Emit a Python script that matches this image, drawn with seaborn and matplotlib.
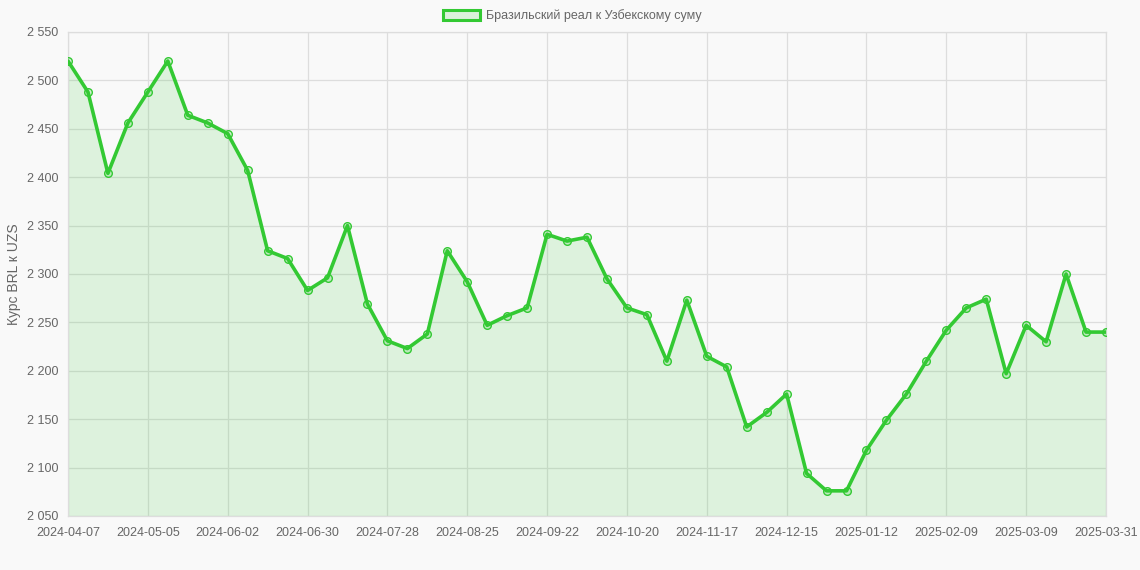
import numpy as np
import pandas as pd
import seaborn as sns
import matplotlib.pyplot as plt

# weekly BRL -> UZS rate
dates = [
    "2024-04-07", "2024-04-14", "2024-04-21", "2024-04-28", "2024-05-05", "2024-05-12",
    "2024-05-19", "2024-05-26", "2024-06-02", "2024-06-09", "2024-06-16", "2024-06-23",
    "2024-06-30", "2024-07-07", "2024-07-14", "2024-07-21", "2024-07-28", "2024-08-04",
    "2024-08-11", "2024-08-18", "2024-08-25", "2024-09-01", "2024-09-08", "2024-09-15",
    "2024-09-22", "2024-09-29", "2024-10-06", "2024-10-13", "2024-10-20", "2024-10-27",
    "2024-11-03", "2024-11-10", "2024-11-17", "2024-11-24", "2024-12-01", "2024-12-08",
    "2024-12-15", "2024-12-22", "2024-12-29", "2025-01-05", "2025-01-12", "2025-01-19",
    "2025-01-26", "2025-02-02", "2025-02-09", "2025-02-16", "2025-02-23", "2025-03-02",
    "2025-03-09", "2025-03-16", "2025-03-23", "2025-03-30", "2025-03-31",
]
rates = [
    2520, 2488, 2404, 2456, 2488, 2520, 2464, 2456, 2445, 2407,
    2324, 2316, 2283, 2296, 2350, 2269, 2231, 2223, 2238, 2324,
    2292, 2247, 2257, 2265, 2341, 2334, 2338, 2295, 2265, 2258,
    2210, 2273, 2215, 2204, 2142, 2157, 2176, 2094, 2076, 2076,
    2118, 2149, 2176, 2210, 2242, 2265, 2274, 2197, 2247, 2230,
    2300, 2240, 2240,
]
series_name = "Бразильский реал к Узбекскому суму"
y_title = "Курс BRL к UZS"

line_color = "#33c933"
bg = "#f9f9f9"
text_color = "#666666"

df = pd.DataFrame({"idx": np.arange(len(dates)), "date": dates, "rate": rates})

sns.set_style("whitegrid")
plt.rcParams["font.family"] = ["Liberation Sans", "DejaVu Sans"]

fig = plt.figure(figsize=(11.4, 5.7), dpi=100, facecolor=bg)
ax = fig.add_axes([68 / 1140, 1 - 516 / 570, (1106 - 68) / 1140, (516 - 32) / 570])
ax.set_facecolor(bg)

ax.fill_between(df["idx"], df["rate"], 2050, color=line_color, alpha=0.14, linewidth=0, zorder=1)
sns.lineplot(data=df, x="idx", y="rate", ax=ax, color=line_color, linewidth=2.6,
             marker="o", markersize=5.5, markerfacecolor=(0.2, 0.79, 0.2, 0.2),
             markeredgecolor=line_color, markeredgewidth=1.0, zorder=3)

ax.set_xlim(0, len(dates) - 1)
ax.set_ylim(2050, 2550)

tick_idx = list(range(0, len(dates) - 1, 4))
if tick_idx[-1] != len(dates) - 1:
    tick_idx.append(len(dates) - 1)
ax.set_xticks(tick_idx)
ax.set_xticklabels([dates[i] for i in tick_idx])
yt = np.arange(2050, 2551, 50)
ax.set_yticks(yt)
ax.set_yticklabels([f"{v:,}".replace(",", " ") for v in yt])

ax.grid(True, color="#dddddd", linewidth=0.9)
ax.tick_params(axis="both", length=6, color="#dddddd", labelsize=9, labelcolor=text_color, pad=1)
ax.tick_params(axis="x", pad=2)
for s in ax.spines.values():
    s.set_visible(True)
    s.set_color("#dddddd")
    s.set_linewidth(0.9)

ax.set_xlabel("")
ax.set_ylabel(y_title, fontsize=10, color=text_color, labelpad=4)

legend_handle = plt.Rectangle((0, 0), 1, 1, facecolor=(0.2, 0.79, 0.2, 0.15),
                              edgecolor=line_color, linewidth=2.2)
fig.legend([legend_handle], [series_name], loc="upper center", bbox_to_anchor=(0.502, 1.003),
           frameon=False, fontsize=9, labelcolor=text_color, handlelength=3.0,
           handleheight=0.9, handletextpad=0.5)

fig.savefig("out.png", dpi=100, facecolor=bg)
